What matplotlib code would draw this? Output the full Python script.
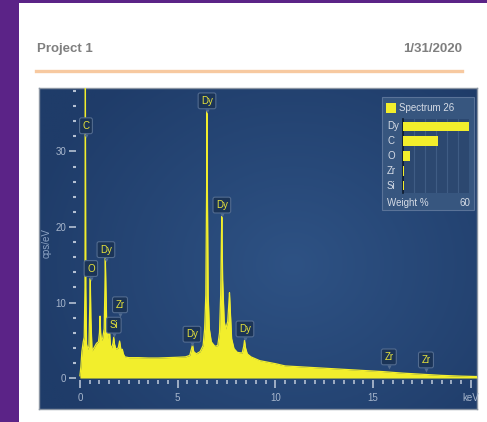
import matplotlib
matplotlib.use("Agg")
import matplotlib.pyplot as plt
import matplotlib.transforms as mtransforms
import numpy as np
from matplotlib.patches import Rectangle
from matplotlib.lines import Line2D
from matplotlib.ticker import MultipleLocator

plt.rcParams['font.family'] = ['Liberation Sans', 'DejaVu Sans']

E_LOW = [0.00, 0.05, 0.10, 0.17, 0.22, 0.26, 0.28, 0.30, 0.34, 0.40, 0.46, 0.50,
         0.53, 0.56, 0.62, 0.72, 0.85, 0.95, 1.00, 1.03, 1.06, 1.10, 1.16, 1.24,
         1.28, 1.30, 1.33, 1.38, 1.44, 1.49, 1.52, 1.56, 1.62, 1.69, 1.73, 1.77,
         1.84, 1.96, 2.03, 2.07, 2.12, 2.17, 2.22, 2.30, 2.50, 3.00, 3.50, 4.00,
         4.50, 5.00, 5.40]
CPS_LOW = [0.3, 1.5, 3.5, 4.8, 5.4, 12.0, 40.0, 12.0, 4.5, 3.8, 4.2, 9.0,
           13.2, 8.0, 3.6, 4.0, 4.6, 4.8, 6.0, 8.2, 6.0, 5.0, 5.2, 6.5,
           12.0, 15.9, 12.0, 6.0, 5.2, 7.0, 6.0, 4.3, 4.0, 4.6, 5.4, 4.5,
           3.8, 4.0, 4.9, 4.2, 3.5, 3.8, 3.2, 2.8, 2.7, 2.7, 2.65, 2.65,
           2.7, 2.75, 2.8]
E_DYL = [5.62, 5.72, 5.76, 5.82, 5.95, 6.15, 6.30, 6.38, 6.44, 6.48, 6.50, 6.52,
         6.56, 6.62, 6.72, 6.90, 7.05, 7.14, 7.20, 7.24, 7.26, 7.30, 7.38, 7.46,
         7.56, 7.62, 7.65, 7.69, 7.76, 7.88, 8.05, 8.30, 8.38, 8.42, 8.47, 8.56,
         8.75]
CPS_DYL = [3.0, 4.0, 4.4, 3.5, 3.2, 3.5, 4.3, 6.5, 11.0, 25.0, 35.3, 25.0,
           11.0, 6.5, 4.8, 4.2, 4.3, 6.0, 11.0, 19.0, 21.4, 13.0, 7.5, 6.5,
           7.5, 10.0, 11.3, 9.0, 5.2, 3.9, 3.4, 3.3, 4.2, 5.0, 4.0, 3.2,
           2.8]
E_TAIL = [9.2, 10.0, 10.5, 11.5, 12.5, 13.5, 14.5, 15.5, 16.5, 17.5, 18.5, 19.5, 20.3]
CPS_TAIL = [2.3, 1.9, 1.6, 1.45, 1.3, 1.15, 1.0, 0.85, 0.65, 0.5, 0.35, 0.25, 0.2]

# peak labels: element, keV, box centre in cps/eV
PEAK_NAMES = ['C', 'Dy', 'Dy', 'Dy', 'O', 'Zr', 'Si', 'Dy', 'Dy', 'Zr', 'Zr']
PEAK_KEV = [0.31, 6.50, 7.26, 1.33, 0.56, 2.05, 1.74, 5.73, 8.44, 15.80, 17.70]
PEAK_Y = [33.4, 36.7, 22.9, 17.0, 14.5, 9.7, 7.0, 5.8, 6.5, 2.8, 2.4]

# quant box
ELEMENTS = ['Dy', 'C', 'O', 'Zr', 'Si']
WEIGHT = [59.7, 31.8, 6.7, 1.3, 0.5]

YELLOW = '#f2ee2c'
TICK = '#b4c0d2'
LABEL = '#a7b6cc'

W, H = 487, 422
def fx(x): return x / W
def fy(y): return 1 - y / H

fig = plt.figure(figsize=(W / 100, H / 100), dpi=100, facecolor='white')

# purple frame of the page
fig.patches.append(Rectangle((0, 0), fx(19), 1, transform=fig.transFigure,
                             fc='#5b2387', ec='none'))
fig.patches.append(Rectangle((0, fy(3)), 1, 3 / H, transform=fig.transFigure,
                             fc='#5b2387', ec='none'))

fig.text(fx(37), fy(49), "Project 1", fontsize=9.5, weight='bold',
         color='#7f7f7f', va='center')
fig.text(fx(462), fy(49), "1/31/2020", fontsize=9.5, weight='bold',
         color='#7f7f7f', va='center', ha='right')
fig.add_artist(Line2D([fx(36), fx(462)], [fy(71), fy(71)], color='#f7c9a0', lw=2.4))

# panel background with a soft radial glow
bg = fig.add_axes([fx(39), fy(409), (477 - 39) / W, (409 - 88) / H])
yy, xx = np.mgrid[0:1:160j, 0:1:240j]
d = np.clip(np.hypot((xx - 0.58) * 1.2, (yy - 0.55)) / 0.75, 0, 1)
c_in = np.array([0x2e, 0x52, 0x84]) / 255
c_out = np.array([0x1f, 0x3c, 0x69]) / 255
img = c_in + (c_out - c_in) * d[..., None]
bg.imshow(img, aspect='auto', extent=[0, 1, 0, 1], origin='upper')
bg.set_xticks([])
bg.set_yticks([])
for s in bg.spines.values():
    s.set_color('#8b95a3')
    s.set_linewidth(1)

# spectrum axes
ax = fig.add_axes([fx(76), fy(380), (477 - 76) / W, (380 - 88) / H])
ax.patch.set_alpha(0)
energy = E_LOW + E_DYL + E_TAIL
cps = CPS_LOW + CPS_DYL + CPS_TAIL
ax.fill_between(energy, cps, 0, color=YELLOW, lw=0)
ax.plot(energy, cps, color=YELLOW, lw=0.9)
ax.set_xlim(-0.2, 20.31)
ax.set_ylim(-0.26, 38.4)
for s in ax.spines.values():
    s.set_visible(False)

ax.set_xticks([0, 5, 10, 15, 20])
ax.set_xticklabels(['0', '5', '10', '15', 'keV'])
ax.xaxis.set_minor_locator(MultipleLocator(0.5))
ax.set_yticks([0, 10, 20, 30])
ax.yaxis.set_minor_locator(MultipleLocator(2))
ax.tick_params(which='both', colors=TICK, labelcolor=LABEL, labelsize=7, width=1.2)
ax.tick_params(axis='x', which='major', length=6, pad=3.5)
ax.tick_params(axis='x', which='minor', length=3)
ax.tick_params(axis='y', which='major', length=5.2, pad=2)
ax.tick_params(axis='y', which='minor', length=2, width=1.5)
fig.text(fx(47), fy(243), "cps/eV", rotation=90, color='#8ea4c4', fontsize=7,
         ha='center', va='center')

# element markers, each box with a small pointer underneath
below = mtransforms.offset_copy(ax.transData, fig=fig, y=-10, units='dots')
for name, xk, yk in zip(PEAK_NAMES, PEAK_KEV, PEAK_Y):
    ax.text(xk, yk, name, ha='center', va='center', color='#e6e23a', fontsize=7,
            bbox=dict(boxstyle='round,pad=0.3,rounding_size=0.2', fc='#1b3457',
                      ec='#526b8f', lw=0.8))
    ax.plot(xk, yk, marker='v', ms=3, color='#526b8f', mec='none', transform=below)

# quant result box
fig.patches.append(Rectangle((fx(382), fy(210)), (474 - 382) / W, (210 - 97) / H,
                             transform=fig.transFigure, fc='#37567f', ec='#5a7398',
                             lw=0.8))
fig.patches.append(Rectangle((fx(386), fy(113)), 10 / W, 10 / H,
                             transform=fig.transFigure, fc=YELLOW, ec='none'))
fig.text(fx(399), fy(108), "Spectrum 26", color='#d6dce6', fontsize=7, va='center')
row_y = [126, 141, 156, 171, 186]
for name, ry in zip(ELEMENTS, row_y):
    fig.text(fx(387), fy(ry), name, color='#d6dce6', fontsize=7, va='center')
fig.text(fx(387), fy(203), "Weight %", color='#d6dce6', fontsize=7, va='center')
fig.text(fx(470), fy(203), "60", color='#d6dce6', fontsize=7, va='center', ha='right')

lax = fig.add_axes([fx(403), fy(193), 66 / W, 74 / H])
lax.set_zorder(3)
lax.set_facecolor('#2c4870')
lax.barh(range(len(ELEMENTS)), WEIGHT, height=0.65, color=YELLOW, zorder=3)
lax.set_xlim(0, 60)
lax.set_ylim(len(ELEMENTS) - 0.5, -0.5)
lax.set_xticks([10, 20, 30, 40, 50])
lax.set_yticks([])
lax.grid(axis='x', color='#3f5c84', lw=0.8)
lax.tick_params(length=0, labelbottom=False)
for k, s in lax.spines.items():
    s.set_visible(k == 'left')
lax.spines['left'].set_color('#0d1a2c')
lax.spines['left'].set_linewidth(1.2)

fig.savefig("out.png", dpi=100, facecolor='white')
